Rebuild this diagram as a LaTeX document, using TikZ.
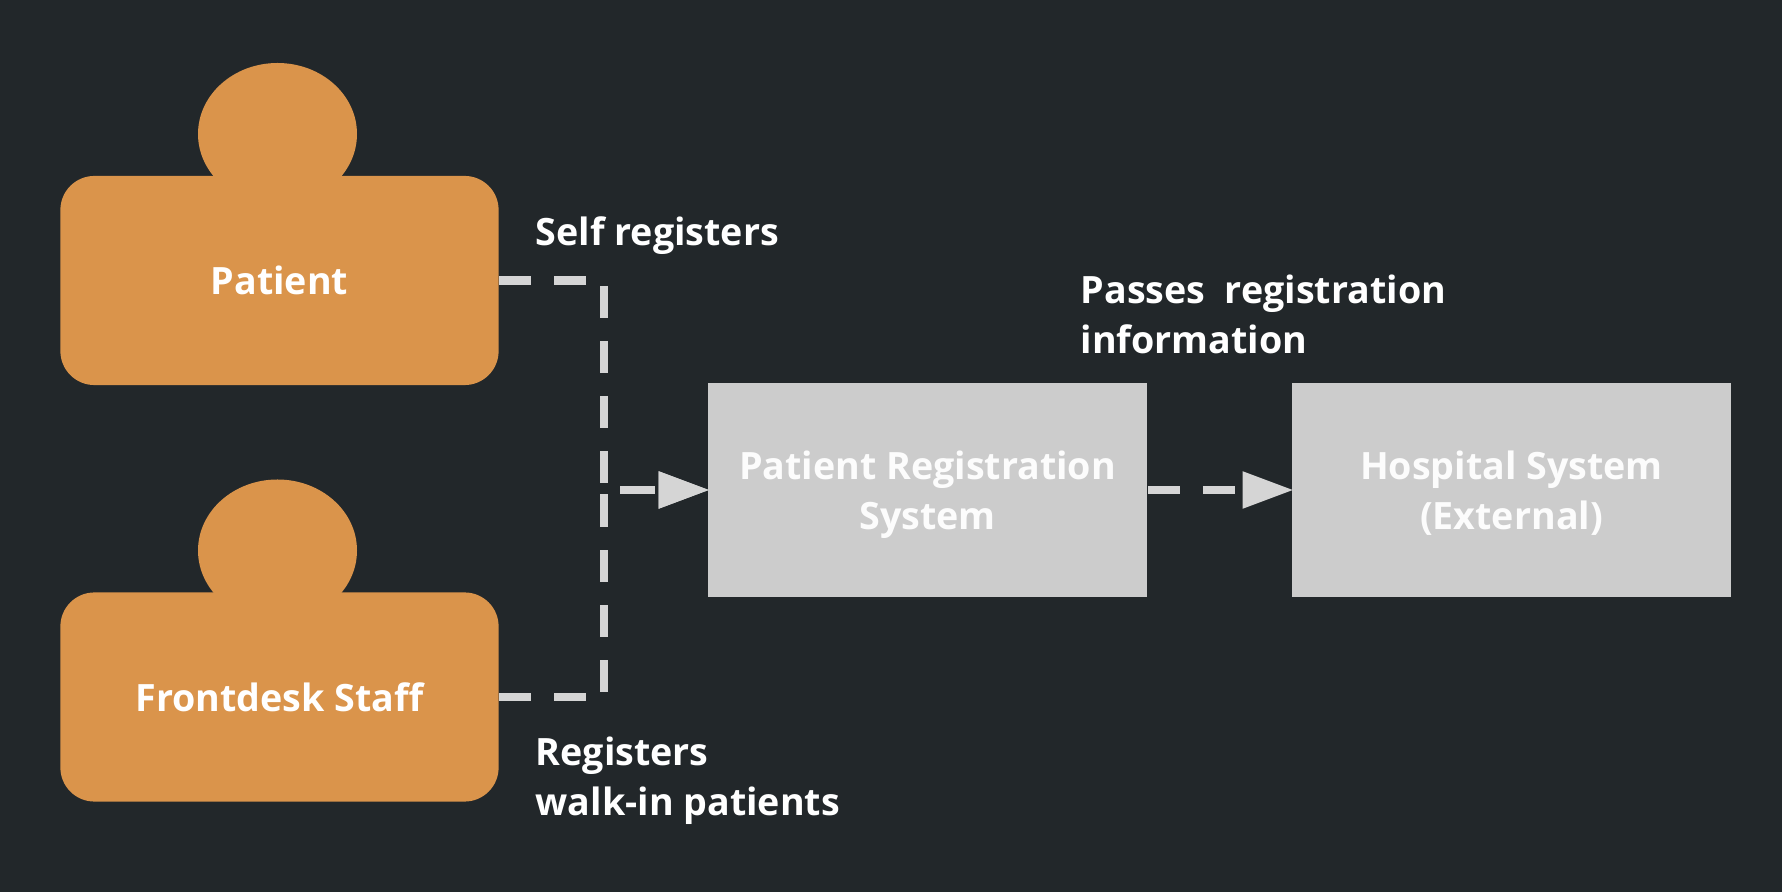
\documentclass[tikz,border=0pt]{standalone}
\usepackage{fontspec}
\setmainfont{Open Sans}
\usetikzlibrary{arrows.meta}
\definecolor{slate}{HTML}{22272A}
\definecolor{amber}{HTML}{DA944B}
\definecolor{silver}{HTML}{CCCCCC}
\definecolor{wire}{HTML}{D5D5D5}
\tikzset{actor/.style = {fill = amber, rounded corners = 0.34cm, minimum width = 4.38cm, minimum height = 2.09cm,
                         inner sep = 0, text = white, text height = 0.29cm, text depth = 0}}
\tikzset{sysbox/.style = {fill = silver, minimum width = 4.39cm, minimum height = 2.13cm, inner sep = 0}}
\tikzset{systext/.style = {text = white!95!silver, align = center, anchor = base, inner sep = 0}}
\tikzset{link/.style = {wire, line width = 0.085cm, dash pattern = on 0.32cm off 0.23cm, shorten > = -0.015cm,
                        -{Triangle[length = 0.5cm, width = 0.375cm, line width = 0pt]}}}
\tikzset{note/.style = {text = white, align = left, anchor = base west, inner sep = 0}}

\begin{document}
\begin{tikzpicture}[x = 0.01cm, y = -0.01cm, font = \fontsize{10.7}{14.23}\selectfont\bfseries]
    \fill [slate] (0, 0) rectangle (1782, 892);
    \useasboundingbox (0, 0) rectangle (1782, 892);

    % heads go under the bodies
    \fill [amber] (277.5, 134) ellipse [x radius = 79.5, y radius = 71];
    \fill [amber] (277.5, 550.5) ellipse [x radius = 79.5, y radius = 71];

    \node [actor] (patient) at (279.5, 280.5) {Patient};
    \node [actor] (staff) at (279.5, 697) {Frontdesk Staff};
    \node [sysbox] (registration) at (927.5, 490) {};
    \node [sysbox] (hospital) at (1511.5, 490) {};
    \node [systext] (registrationtext) at (927.5, 529.5) {Patient Registration\\System};
    \node [systext] (hospitaltext) at (1511.5, 529.5) {Hospital System\\(External)};

    \coordinate (bus) at (604, 490);
    \draw [link] (patient.east) -| (bus) -- (registration.west);
    \draw [link] (staff.east) -| (bus) -- (registration.west);
    \draw [link] (registration.east) -- (hospital.west);

    \node [note] (selfnote) at (535, 246) {Self registers};
    \node [note] (walkinnote) at (535, 816) {Registers\\walk-in patients};
    \node [note] (passnote) at (1080, 354) {Passes\ \ registration\\information};
\end{tikzpicture}
\end{document}
